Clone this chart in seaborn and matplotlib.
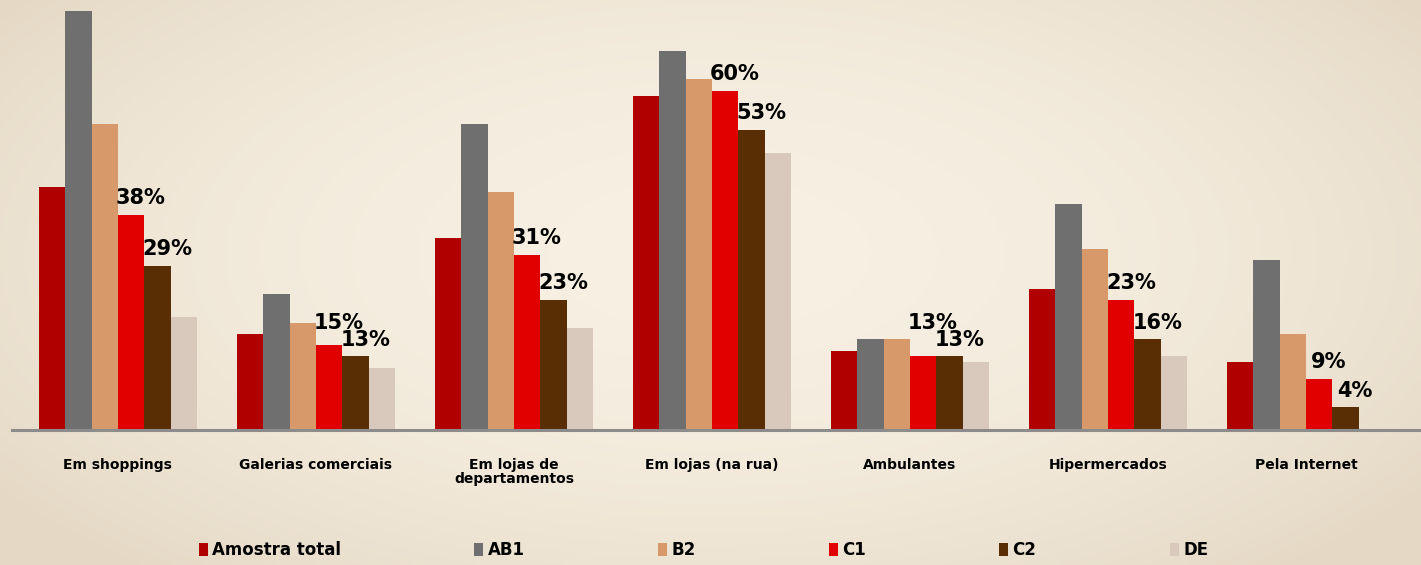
import numpy as np
import pandas as pd
import matplotlib
matplotlib.use("Agg")
import matplotlib.pyplot as plt
import seaborn as sns

# Where people buy, by social class (% of respondents)
categories = ["Em shoppings", "Galerias comerciais", "Em lojas de\ndepartamentos",
              "Em lojas (na rua)", "Ambulantes", "Hipermercados", "Pela Internet"]
series = ["Amostra total", "AB1", "B2", "C1", "C2", "DE"]

amostra_total = [43, 17, 34, 59, 14, 25, 12]
ab1 = [74, 24, 54, 67, 16, 40, 30]
b2 = [54, 19, 42, 62, 16, 32, 17]
c1 = [38, 15, 31, 60, 13, 23, 9]
c2 = [29, 13, 23, 53, 13, 16, 4]
de = [20, 11, 18, 49, 12, 13, np.nan]

colors = ["#B00000", "#6F6F6F", "#D8996A", "#E10000", "#5A2E05", "#D9C9BC"]

sns.set_style("white")
plt.rcParams["font.family"] = ["DejaVu Sans"]
plt.rcParams["text.color"] = "black"

rows = []
for name, vals in zip(series, [amostra_total, ab1, b2, c1, c2, de]):
    for cat, v in zip(categories, vals):
        rows.append({"categoria": cat, "grupo": name, "valor": v})
df = pd.DataFrame(rows)

W, H = 1421, 565
fig = plt.figure(figsize=(W / 100, H / 100), dpi=100)

# parchment-like background
bg = fig.add_axes([0, 0, 1, 1], zorder=-1)
yy, xx = np.mgrid[0:1:200j, 0:1:400j]
r = np.clip(np.sqrt(((xx - 0.5) / 0.62) ** 2 + ((yy - 0.45) / 0.75) ** 2), 0, 1)
center = np.array([247, 240, 227]) / 255
edge = np.array([229, 217, 197]) / 255
img = center[None, None, :] * (1 - r[..., None] ** 2) + edge[None, None, :] * r[..., None] ** 2
bg.imshow(img, aspect="auto", extent=[0, 1, 0, 1])
bg.axis("off")

ax = fig.add_axes([12 / W, 135 / H, (W - 12) / W, 430 / H], zorder=1)
ax.patch.set_alpha(0)

sns.barplot(data=df, x="categoria", y="valor", hue="grupo", order=categories,
            hue_order=series, palette=colors, width=0.8, saturation=1,
            errorbar=None, linewidth=0, edgecolor="none", ax=ax)

ax.set_xlim(-0.535, 6.581)
ax.set_ylim(0, 76)
ax.set_xlabel("")
ax.set_ylabel("")
ax.set_yticks([])
for s in ["top", "right", "left"]:
    ax.spines[s].set_visible(False)
ax.spines["bottom"].set_color("#8C8C8C")
ax.spines["bottom"].set_linewidth(2.2)

ax.set_xticks(range(len(categories)))
ax.set_xticklabels(categories, fontsize=10, fontweight="bold", linespacing=1.0)
ax.tick_params(axis="x", which="major", length=0, pad=20, labelcolor="black")
ax.set_xticks(np.arange(-0.5, len(categories) + 0.5, 1), minor=True)
ax.tick_params(axis="x", which="minor", length=5, width=1.5, color="#8C8C8C",
               direction="out")

# value labels on the C1 and C2 bars; a C1 label is lifted above the C2 label
# beside it when the two bars are close in height
gap = 1.2       # space between bar top and its label, in data units
text_h = 3.0    # height of one label, in data units
label_kw = dict(ha="center", va="bottom", fontsize=15, fontweight="bold", color="black")
c1_bars = ax.containers[series.index("C1")].patches
c2_bars = ax.containers[series.index("C2")].patches
for bar1, bar2, v1, v2 in zip(c1_bars, c2_bars, c1, c2):
    y2 = v2 + gap
    y1 = max(v1 + gap, y2 + text_h)
    for bar, v, y in [(bar1, v1, y1), (bar2, v2, y2)]:
        ax.annotate(f"{v}%", xy=(bar.get_x() + bar.get_width() / 2, y),
                    xytext=(7, 0), textcoords="offset points", **label_kw)

handles, labels = ax.get_legend_handles_labels()
if ax.get_legend() is not None:
    ax.get_legend().remove()
fig.legend(handles, labels, loc="center", bbox_to_anchor=(0.495, 0.026), ncol=6,
           frameon=False, columnspacing=8, handlelength=0.55, handleheight=0.9,
           handletextpad=0.25, labelcolor="black",
           prop={"weight": "bold", "size": 12})

fig.savefig("out.png", dpi=100)
